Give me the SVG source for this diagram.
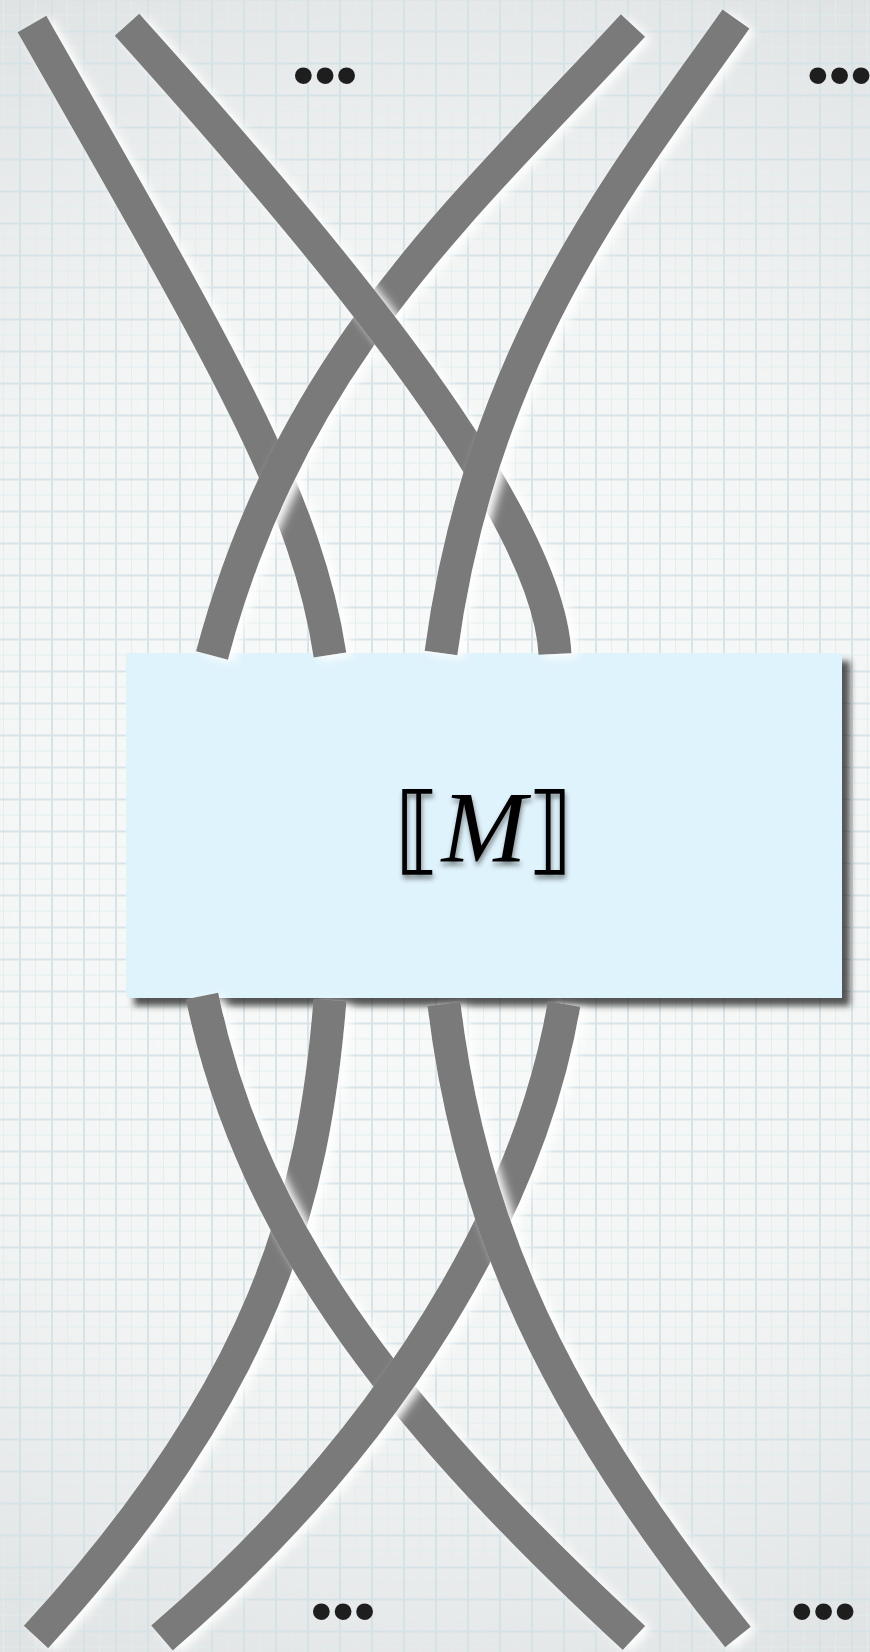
<svg xmlns="http://www.w3.org/2000/svg" width="870" height="1652" viewBox="0 0 870 1652">
<defs>
  <radialGradient id="bg" cx="435" cy="826" r="1000" gradientUnits="userSpaceOnUse">
    <stop offset="0" stop-color="#fafbfb"/>
    <stop offset="0.55" stop-color="#f3f5f5"/>
    <stop offset="1" stop-color="#dcdfe0"/>
  </radialGradient>
  <pattern id="grid" x="19" y="30.5" width="32" height="32" patternUnits="userSpaceOnUse">
    <rect x="16" y="0" width="1" height="32" fill="#e2ecee"/>
    <rect x="0" y="16" width="32" height="1" fill="#e2ecee"/>
    <rect x="0" y="0" width="2" height="32" fill="#d3e2e6"/>
    <rect x="0" y="0" width="32" height="2" fill="#d3e2e6"/>
  </pattern>
  <filter id="glow" filterUnits="userSpaceOnUse" x="0" y="0" width="870" height="1652">
    <feGaussianBlur in="SourceAlpha" stdDeviation="5"/>
    <feOffset dx="6" dy="3" result="b"/>
    <feFlood flood-color="#ffffff" flood-opacity="0.97"/>
    <feComposite in2="b" operator="in"/>
    <feMerge><feMergeNode/><feMergeNode in="SourceGraphic"/></feMerge>
  </filter>
  <filter id="boxShadow" x="-5%" y="-5%" width="115%" height="120%">
    <feDropShadow dx="8" dy="8" stdDeviation="3" flood-color="#2a2a2a" flood-opacity="0.8"/>
  </filter>
  <filter id="textShadow" x="-20%" y="-20%" width="140%" height="150%">
    <feDropShadow dx="1" dy="4" stdDeviation="2.5" flood-color="#000" flood-opacity="0.45"/>
  </filter>
  <style>
    .strand { fill: none; stroke: #7a7a7a; stroke-width: 33; stroke-linecap: butt; filter: url(#glow); }
    .dots { font-family: "Liberation Sans", Arial, sans-serif; font-size: 62px; fill: #1e1e1e; text-anchor: middle; }
    .label { font-size: 96px; fill: #000; text-anchor: middle; filter: url(#textShadow); }
    .br { font-family: "DejaVu Serif", "DejaVu Sans", serif; }
    .mi { font-family: "Liberation Serif", serif; font-style: italic; font-size: 102px; }
  </style>
</defs>

<rect x="0" y="0" width="870" height="1652" fill="url(#bg)"/>
<rect x="0" y="0" width="870" height="1652" fill="url(#grid)" opacity="0.9"/>

<g id="node-M">
  <rect x="126" y="653" width="716" height="345" fill="#dff3fc" filter="url(#boxShadow)"/>
  <text class="label" x="484" y="862"><tspan class="br">⟦</tspan><tspan class="mi">M</tspan><tspan class="br">⟧</tspan></text>
</g>

<g id="dots-top-middle"><text class="dots" x="325" y="96">•••</text></g>
<g id="dots-top-right"><text class="dots" x="839.5" y="96">•••</text></g>
<g id="dots-bottom-middle"><text class="dots" x="343" y="1632">•••</text></g>
<g id="dots-bottom-right"><text class="dots" x="823.5" y="1632">•••</text></g>

<g id="connectors">
  <path id="s1" class="strand" d="M32,24 C220,354 306,497 330,655"/>
  <path id="s3" class="strand" d="M633,25.5 C464,209 292,355.5 212,655.5"/>
  <path id="s2" class="strand" d="M127,24.7 C303,220 547.5,504 555,654"/>
  <path id="s4" class="strand" d="M736,19 C630,170 482,345 441,653"/>
  <path id="s5" class="strand" d="M330,1000 C314,1200 265.5,1387 36,1637"/>
  <path id="s6" class="strand" d="M202,996 C254,1246 415,1435 634,1638"/>
  <path id="s7" class="strand" d="M564,1004 C530,1204 395,1438 162,1638"/>
  <path id="s8" class="strand" d="M444,1004 C470,1224 555,1410 738,1637"/>
</g>
</svg>
